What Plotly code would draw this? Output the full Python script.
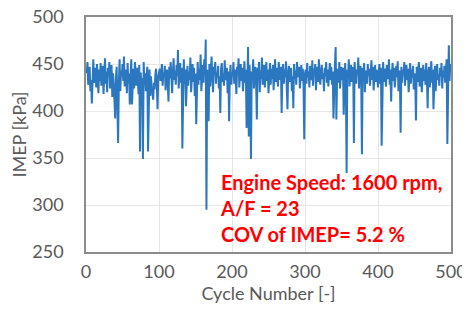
import plotly.graph_objects as go

# IMEP per cycle [kPa] (cycles 1..500)
imep = [
    440, 452, 428, 436, 447, 421, 433, 408, 441, 455, 430, 438, 446, 425, 450, 437, 419, 444, 432, 451,
    427, 439, 448, 418, 435, 456, 429, 442, 420, 446, 438, 452, 424, 433, 449, 415, 440, 428, 411, 392,
    436, 447, 405, 366, 430, 455, 421, 443, 437, 450,
    432, 458, 426, 444, 437, 419, 451, 429, 440, 407, 436, 455, 407, 430, 445, 424, 452, 438, 427, 446,
    433, 418, 449, 357, 441, 426, 435, 349, 452, 428, 440, 421, 436, 447, 357, 431, 444, 416, 437, 425,
    420, 412, 430, 423, 439, 445, 428, 402, 436, 441,
    445, 432, 438, 450, 427, 441, 436, 448, 422, 439, 444, 430, 410, 447, 435, 452, 426, 419, 440, 456,
    433, 443, 428, 449, 437, 465, 424, 441, 451, 430, 446, 360, 438, 455, 429, 444, 405, 436, 448, 427,
    442, 433, 457, 420, 439, 450, 431, 446, 416, 440,
    386, 437, 452, 428, 445, 433, 460, 421, 441, 449, 430, 455, 438, 476, 295, 444, 432, 389, 450, 426,
    443, 458, 435, 420, 447, 439, 452, 429, 441, 436, 448, 424, 437, 398, 445, 451, 431, 440, 427, 454,
    438, 433, 446, 419, 442, 389, 436, 449, 428, 441,
    437, 452, 429, 444, 433, 418, 447, 439, 456, 425, 441, 450, 432, 446, 421, 438, 453, 430, 444, 382,
    436, 468, 373, 449, 427, 349, 442, 435, 455, 424, 440, 447, 431, 391, 446, 438, 452, 420, 443, 434,
    457, 428, 441, 449, 425, 437, 452, 432, 444, 419,
    439, 451, 428, 445, 434, 449, 422, 440, 455, 431, 446, 437, 426, 452, 441, 433, 447, 398, 438, 450,
    429, 444, 436, 453, 425, 402, 442, 448, 431, 439, 446, 421, 437, 403, 450, 434, 443, 428, 452, 436,
    441, 447, 424, 439, 449, 432, 445, 427, 370, 440,
    444, 429, 451, 436, 442, 425, 448, 438, 433, 454, 427, 445, 439, 450, 422, 441, 447, 431, 455, 436,
    428, 443, 449, 434, 440, 421, 446, 437, 452, 430, 444, 426, 439, 451, 433, 447, 428, 442, 392, 436,
    449, 468, 391, 438, 445, 430, 452, 424, 441, 447,
    433, 446, 396, 440, 451, 428, 334, 444, 437, 455, 426, 442, 449, 431, 438, 447, 366, 452, 435, 429,
    444, 439, 457, 424, 441, 448, 432, 354, 446, 437, 451, 420, 443, 436, 429, 450, 438, 445, 427, 441,
    454, 433, 447, 422, 439, 449, 431, 444, 436, 425,
    442, 450, 429, 446, 363, 438, 452, 431, 445, 437, 426, 449, 441, 434, 455, 428, 444, 410, 439, 451,
    432, 446, 425, 440, 448, 436, 453, 421, 443, 437, 377, 447, 430, 444, 439, 452, 427, 441, 449, 433,
    445, 420, 438, 451, 429, 444, 436, 448, 423, 440,
    435, 390, 447, 431, 443, 452, 426, 439, 446, 420, 437, 449, 432, 444, 428, 451, 436, 403, 441, 447,
    425, 438, 453, 430, 444, 402, 436, 448, 421, 442, 450, 433, 439, 427, 446, 437, 451, 424, 443, 436,
    448, 430, 441, 455, 365, 446, 470, 432, 450, 441,
]
cycles = list(range(1, len(imep) + 1))

x_ticks = [0, 100, 200, 300, 400, 500]
y_ticks = [250, 300, 350, 400, 450, 500]
note_lines = ["Engine Speed: 1600 rpm,", "A/F = 23", "COV of IMEP= 5.2 %"]

FONT = "Lato"
GRAY = "#595959"

fig = go.Figure()
fig.add_trace(go.Scatter(
    x=cycles, y=imep, mode="lines",
    line=dict(color="#2B78C0", width=2),
    showlegend=False, hoverinfo="skip",
))

fig.add_annotation(
    x=181, y=339, xref="x", yref="y",
    xanchor="left", yanchor="top", align="left", showarrow=False,
    text="<br>".join("<b>%s</b>" % s for s in note_lines),
    font=dict(family=FONT, size=20, color="#FF0000"),
)

# the page body has an 8px margin, so the figure is sized to fit the window
fig.update_layout(
    width=462, height=316,
    margin=dict(l=78, r=19, t=9, b=72),
    paper_bgcolor="white", plot_bgcolor="white",
    font=dict(family=FONT, size=18, color=GRAY),
)
fig.update_xaxes(
    range=[0, 500], tickvals=x_ticks, ticktext=[str(v) for v in x_ticks],
    showgrid=True, gridcolor="#E6E6E6", gridwidth=1,
    showline=True, mirror=True, linecolor="#8C8C8C", linewidth=1.5,
    ticks="outside", ticklen=3, tickcolor="rgba(0,0,0,0)",
    zeroline=False, automargin=False, ticklabeloverflow="allow",
    title=dict(text="Cycle Number [-]", font=dict(family=FONT, size=18, color=GRAY), standoff=3),
    tickfont=dict(family=FONT, size=18, color=GRAY),
)
fig.update_yaxes(
    range=[250, 500], tickvals=y_ticks, ticktext=[str(v) for v in y_ticks],
    showgrid=True, gridcolor="#E6E6E6", gridwidth=1,
    showline=True, mirror=True, linecolor="#8C8C8C", linewidth=1.5,
    ticks="outside", ticklen=17, tickcolor="rgba(0,0,0,0)",
    zeroline=False, automargin=False, ticklabeloverflow="allow",
    title=dict(text="IMEP [kPa]", font=dict(family=FONT, size=18, color=GRAY), standoff=3),
    tickfont=dict(family=FONT, size=18, color=GRAY),
)

fig.write_html("out.html")
